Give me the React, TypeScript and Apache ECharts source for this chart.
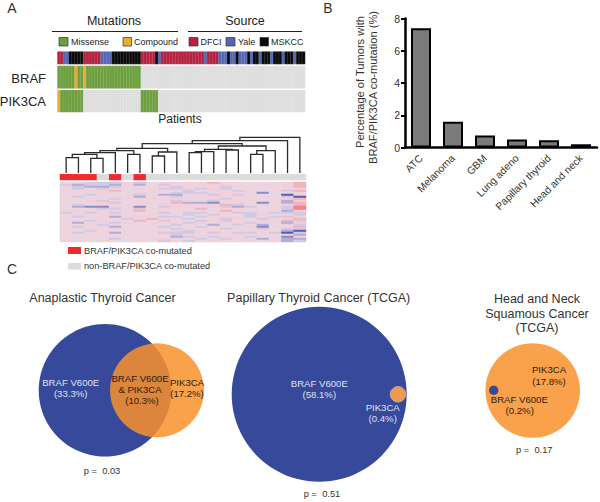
import React, { useEffect, useRef } from "react";
import * as echarts from "echarts";

const FONT = "'Liberation Sans', Arial, sans-serif";

// Panel A: oncoprint
const PATIENT_COUNT = 86;
const patients = Array.from({ length: PATIENT_COUNT }, (_, i) => `P${i + 1}`);
const sourceNames = ["DFCI", "Yale", "MSKCC"];
const sourceColors = ["#b3223f", "#5566b4", "#0a0a0a"];
// run lengths: [source index, number of patients]
const sourceRuns = [
  [0, 2], [1, 2], [2, 5], [0, 6], [1, 4], [2, 10], [0, 5], [2, 1], [1, 1], [0, 15], [1, 1], [0, 4],
  [1, 3], [2, 1], [1, 2], [2, 1], [1, 3], [2, 1], [1, 1], [2, 2], [1, 1], [2, 3], [1, 1], [2, 3], [1, 1], [2, 3], [1, 1], [2, 3],
];
// 0 none, 1 missense, 2 compound
const mutationColors = ["#dedede", "#6d9f3e", "#ebaa30"];
const brafRuns = [[1, 6], [2, 1], [1, 2], [2, 1], [1, 19], [0, 57]];
const pik3caRuns = [[2, 1], [1, 8], [0, 20], [1, 6], [0, 51]];

// Panel A: clustered expression
const clusterCols = Array.from({ length: 20 }, (_, i) => `S${i + 1}`);
const coMutated = [1, 1, 1, 0, 1, 0, 1, 0, 0, 0, 0, 0, 0, 0, 0, 0, 0, 0, 0, 0];
const coMutatedColors = ["#dcdcdc", "#ee2a2e"];
const heatLevels = [-4, -3, -2, -1, 0, 1, 2, 3];
const heatColors = ["#575ea9", "#8a8cc6", "#b0aed8", "#d3c9e3", "#e9d6e3", "#f3d0d9", "#f0b4bd", "#ef8486"];
const heatRows = [
  [0, 0, -1, -1, -1, 1, -1, 0, 1, 1, 1, 1, 2, 1, 1, 1, 0, 1, 1, 2],
  [-1, -2, -1, -1, -2, 1, -2, 0, -1, 0, 1, 0, 1, 1, 0, 0, 1, 0, 1, 2],
  [0, -1, -2, -2, -1, 0, 0, 1, 1, -1, 0, 1, 0, -1, 1, 1, 0, 1, 1, 2],
  [0, -1, 0, -1, 1, 0, 1, 0, -1, -1, 1, -1, 1, -1, 0, 0, 0, 0, 0, 1],
  [1, 0, 1, 1, 2, 0, 0, 1, 1, 0, -1, 0, 1, 0, -1, 1, 0, 1, -1, 2],
  [0, 0, 0, 1, 1, 0, 1, 0, 0, -1, -1, -1, 0, 1, 1, 0, -3, 0, 0, 1],
  [1, 1, -1, 0, 0, 1, -1, 1, -2, -2, 0, 1, -1, 1, -1, 1, 0, 0, -4, 1],
  [0, -1, 0, 1, 1, 0, -2, 0, 0, -1, 1, 0, 1, 0, 1, 0, 1, 0, -1, -4],
  [1, 0, 0, 0, -1, 1, 0, 1, 1, 1, 0, 0, 1, -1, 0, 1, 0, 1, 1, 2],
  [0, 0, 1, -1, 1, 0, 1, 0, 0, -1, 1, 0, -1, 0, 1, 1, 0, 0, -2, 1],
  [0, 0, 1, 1, -1, 0, 1, 1, 1, 2, -2, -2, -3, 1, 1, 0, -3, 1, -2, 2],
  [1, -1, 0, 1, 0, 1, 0, 0, 1, 1, 1, 1, 1, 2, -1, 0, 1, 0, 1, 2],
  [0, -2, -3, -3, 1, 0, -3, 0, -1, 1, 1, 1, 1, -1, -2, -1, 0, 0, -1, 3],
  [0, 0, 0, -1, -1, 0, -1, 1, 1, 0, 1, 2, 0, 1, 1, 0, 0, 1, -1, 3],
  [1, 1, 1, 1, 1, 1, 2, 0, 0, 0, 0, 0, 1, 2, 1, 0, 1, 0, -2, 1],
  [-1, 0, -1, 0, -1, 0, 1, 0, -1, 1, -1, -1, 0, 1, -1, -1, 0, -1, -1, -1],
  [0, 1, 0, 1, 1, 0, 0, 1, 1, 0, -1, 0, -1, 0, 0, -1, 1, 0, 1, -1],
  [1, -1, 1, 0, -2, 1, 1, 0, -1, -1, 0, -1, 1, 1, 1, -1, 0, -1, -1, 1],
  [0, 0, 0, 1, 0, -1, 1, 2, 1, 0, -1, 0, 0, -1, 1, 0, -1, 1, 1, 2],
  [1, 1, -1, 1, 1, 0, 2, 0, -1, 0, 0, -1, 1, -1, 0, 0, 1, 0, 2, -1],
  [0, -2, 0, 0, -1, 1, 0, 1, 1, 1, -1, 1, 0, 1, 1, -1, 0, 0, -2, 1],
  [1, 0, 1, -1, 0, 0, 1, 0, 0, -1, 0, 0, -2, 0, -1, 0, -2, 0, 1, -1],
  [0, -1, 0, 1, -2, 1, 0, 1, -1, 0, 1, -1, 1, 1, 0, 1, -3, 1, 0, 2],
  [1, 1, 1, 0, 1, 0, 1, 0, 1, -1, 0, 0, 0, -1, 1, 0, -1, 0, -1, -1],
  [0, 0, -1, 1, 0, 1, 0, 1, 0, 1, -1, 1, 1, 0, 0, 1, 1, 0, -2, -4],
  [1, -1, 0, 0, -2, 0, 1, 0, -1, -1, -1, 0, -1, 1, -1, -1, 0, -1, -4, -1],
  [0, 0, 1, 1, 0, 1, 0, 1, 1, -1, 1, 1, 0, 0, 1, 0, 1, 0, 1, -2],
  [1, 1, 0, 0, 1, 0, 1, 0, 0, -2, -1, 0, -1, 1, 0, -1, 0, 1, -3, 1],
  [0, 0, 1, 0, -1, 1, 0, 1, 1, 0, 0, -1, 0, -1, 1, 0, -2, 0, -2, -2],
  [1, 0, 0, 1, 0, 0, 1, 0, -1, 1, -1, 0, 1, 0, 0, 1, 0, 1, -2, -1],
];
// a, b: column index when >= 0, or ~(earlier merge index) when negative; h: height
const dendroMerges = [
  [0, 1, 15.3], [2, 3, 14.7], [~0, ~1, 18.7], [~2, 4, 20.3], [5, 6, 18.7], [~3, ~4, 22.3],
  [7, 8, 17], [~6, 9, 21], [~5, ~7, 24.7], [10, 11, 20.3], [~9, 12, 21.3], [13, 14, 23],
  [~10, ~11, 23.7], [15, 16, 18.7], [~13, 17, 22.3], [~12, ~14, 27], [~8, ~15, 29.3], [~16, 18, 32.3], [~17, 19, 35.7],
];

// Panel B: bars
const tumorTypes = ["ATC", "Melanoma", "GBM", "Lung adeno", "Papillary thyroid", "Head and neck"];
const coMutationPct = [7.4, 1.6, 0.75, 0.5, 0.45, 0.2];
const pctTicks = [0, 8, 2];

// Panel C: Venn circles, on a page-sized scale
const vennBlueX = [105, 319.2, 493.7];
const vennBlueY = [390.3, 394.3, 390.3];
const vennBlueR = [66.3, 87.5, 4.7];
const vennOrangeX = [157, 398, 532.7];
const vennOrangeY = [390.3, 394.3, 390.5];
const vennOrangeR = [47, 7.7, 47.3];

function expand(runs: number[][]) {
  const out: number[] = [];
  runs.forEach(([v, n]) => { for (let i = 0; i < n; i++) out.push(v); });
  return out;
}

function stripSeries(idx: number, values: number[]) {
  return {
    type: "heatmap", xAxisIndex: idx, yAxisIndex: idx, silent: true,
    itemStyle: { borderColor: "rgba(255,255,255,0.3)", borderWidth: 0.4 },
    data: values.map((v, i) => [i, 0, v]),
  };
}

const pieceMap = (seriesIndex: number, levels: number[], colors: string[]) => ({
  type: "piecewise", show: false, seriesIndex, dimension: 2,
  pieces: levels.map((value, i) => ({ value, color: colors[i] })),
});

function dendroData() {
  const pos: number[] = [];
  const rows: number[][] = [];
  dendroMerges.forEach(([a, b, h], i) => {
    const xa = a >= 0 ? a + 0.5 : pos[~a];
    const xb = b >= 0 ? b + 0.5 : pos[~b];
    const ha = a >= 0 ? 0 : dendroMerges[~a][2];
    const hb = b >= 0 ? 0 : dendroMerges[~b][2];
    pos[i] = (xa + xb) / 2;
    rows.push([xa, ha, xb, hb, h]);
  });
  return rows;
}

const txt = (
  text: string, x: number, y: number, size: number, fill = "#333",
  align: "center" | "left" | "right" = "center", rotation = 0,
) => ({
  type: "text", x, y, rotation, silent: true, z: 100,
  style: { text, fontSize: size, fontFamily: FONT, fill, align, verticalAlign: "middle" },
});
const rule = (x1: number, x2: number, y: number) => ({
  type: "line", silent: true, z: 100, shape: { x1, y1: y, x2, y2: y }, style: { stroke: "#222", lineWidth: 1 },
});
const swatch = (x: number, y: number, w: number, h: number, fill: string, stroke = "#333") => ({
  type: "rect", silent: true, z: 100, shape: { x, y, width: w, height: h },
  style: { fill, stroke, lineWidth: stroke === "none" ? 0 : 0.7 },
});

export default function App() {
  const ref = useRef<HTMLDivElement>(null);
  useEffect(() => {
    document.body.style.margin = "0";
    const chart = echarts.init(ref.current!, undefined, { renderer: "svg" });
    const hiddenCat = (idx: number, data: string[]) => ({ type: "category", gridIndex: idx, show: false, data });
    const light = "#dfe3f2";
    const dark = "#2b1c12";
    const vs = 9.6;
    chart.setOption({
      animation: false,
      backgroundColor: "#fff",
      textStyle: { fontFamily: FONT },
      grid: [
        { left: 57.5, top: 51.7, width: 247.5, height: 12.3 },
        { left: 57.5, top: 66, width: 247.5, height: 22.3 },
        { left: 57.5, top: 90.2, width: 247.5, height: 21.8 },
        { left: 60, top: 174.3, width: 246, height: 5.7 },
        { left: 60, top: 182, width: 246, height: 60 },
        { left: 60, top: 137, width: 246, height: 36 },
        { left: 405, top: 18.5, width: 192, height: 129 },
        { left: 0, top: 0, width: 600, height: 502 },
      ],
      visualMap: [
        pieceMap(0, [0, 1, 2], sourceColors),
        pieceMap(1, [0, 1, 2], mutationColors),
        pieceMap(2, [0, 1, 2], mutationColors),
        pieceMap(3, [0, 1], coMutatedColors),
        pieceMap(4, heatLevels, heatColors),
      ],
      xAxis: [
        hiddenCat(0, patients), hiddenCat(1, patients), hiddenCat(2, patients),
        hiddenCat(3, clusterCols), hiddenCat(4, clusterCols),
        { type: "value", gridIndex: 5, show: false, min: 0, max: 20 },
        {
          type: "category", gridIndex: 6, data: tumorTypes,
          axisLine: { lineStyle: { color: "#000", width: 2.5 } },
          axisTick: { alignWithLabel: true, length: 4, lineStyle: { color: "#000", width: 2 } },
          axisLabel: { rotate: 45, fontSize: 10.3, color: "#333", margin: 9, interval: 0, fontFamily: FONT },
        },
        { type: "value", gridIndex: 7, show: false, min: 0, max: 600 },
      ],
      yAxis: [
        hiddenCat(0, ["Source"]), hiddenCat(1, ["BRAF"]), hiddenCat(2, ["PIK3CA"]),
        hiddenCat(3, ["Co-mutated"]),
        { ...hiddenCat(4, heatRows.map((_, i) => `G${i + 1}`)), inverse: true },
        { type: "value", gridIndex: 5, show: false, min: 0, max: 36 },
        {
          type: "value", gridIndex: 6, min: pctTicks[0], max: pctTicks[1], interval: pctTicks[2],
          axisLine: { show: true, lineStyle: { color: "#000", width: 2.5 } },
          axisTick: { show: true, length: 4, lineStyle: { color: "#000", width: 2 } },
          axisLabel: { fontSize: 10.5, color: "#333", margin: 5, fontFamily: FONT },
          splitLine: { show: false },
        },
        { type: "value", gridIndex: 7, show: false, min: 0, max: 502, inverse: true },
      ],
      series: [
        stripSeries(0, expand(sourceRuns)),
        stripSeries(1, expand(brafRuns)),
        stripSeries(2, expand(pik3caRuns)),
        {
          type: "heatmap", xAxisIndex: 3, yAxisIndex: 3, silent: true,
          data: coMutated.map((v, i) => [i, 0, v]),
        },
        {
          type: "heatmap", xAxisIndex: 4, yAxisIndex: 4, silent: true,
          data: heatRows.flatMap((row, r) => row.map((v, c) => [c, r, v])),
        },
        {
          type: "custom", xAxisIndex: 5, yAxisIndex: 5, silent: true, clip: false,
          encode: { x: [0, 2], y: [1, 3, 4] },
          data: dendroData(),
          renderItem: (_: any, api: any) => {
            const h = api.value(4);
            return {
              type: "polyline",
              shape: {
                points: [
                  api.coord([api.value(0), api.value(1)]),
                  api.coord([api.value(0), h]),
                  api.coord([api.value(2), h]),
                  api.coord([api.value(2), api.value(3)]),
                ],
              },
              style: { stroke: "#2a2a2a", lineWidth: 1.3, fill: "none" },
            };
          },
        },
        {
          type: "bar", xAxisIndex: 6, yAxisIndex: 6, silent: true, data: coMutationPct, barWidth: 20,
          itemStyle: { color: "#7b7b7b", borderColor: "#000", borderWidth: 2 },
        },
        {
          type: "scatter", xAxisIndex: 7, yAxisIndex: 7, silent: true, symbol: "circle", z: 2,
          data: vennBlueX.map((x, i) => [x, vennBlueY[i], vennBlueR[i]]),
          symbolSize: (v: number[]) => v[2] * 2,
          itemStyle: { color: "#36499b", opacity: 1 },
        },
        {
          type: "scatter", xAxisIndex: 7, yAxisIndex: 7, silent: true, symbol: "circle", z: 3,
          data: [
            [vennOrangeX[0], vennOrangeY[0], vennOrangeR[0]],
            {
              value: [vennOrangeX[1], vennOrangeY[1], vennOrangeR[1]],
              itemStyle: { color: "#ee9a50", opacity: 1, borderColor: "#c9a98f", borderWidth: 1 },
            },
          ],
          symbolSize: (v: number[]) => v[2] * 2,
          itemStyle: { color: "#f8912b", opacity: 0.85 },
        },
        {
          type: "scatter", xAxisIndex: 7, yAxisIndex: 7, silent: true, symbol: "circle", z: 1,
          data: [[vennOrangeX[2], vennOrangeY[2], vennOrangeR[2]]],
          symbolSize: (v: number[]) => v[2] * 2,
          itemStyle: { color: "#f8912b", opacity: 0.85 },
        },
      ],
      graphic: [
        txt("A", 12, 8, 14), txt("B", 328, 8, 14), txt("C", 12, 269, 14),
        txt("Percentage of Tumors with", 360, 82, 11.1, "#333", "center", Math.PI / 2),
        txt("BRAF/PIK3CA co-mutation (%)", 372.7, 87.5, 11.1, "#333", "center", Math.PI / 2),
        txt("Mutations", 114, 21, 12.5, "#222"), rule(52, 178, 31.5),
        txt("Source", 245, 21, 12.5, "#222"), rule(188, 302, 31.5),
        swatch(59, 37.5, 9, 8.5, mutationColors[1]), txt("Missense", 71, 42, 9, "#222", "left"),
        swatch(123, 37.5, 8.5, 8.5, mutationColors[2]), txt("Compound", 134, 42, 9, "#222", "left"),
        swatch(189, 37.5, 9, 8.5, sourceColors[0]), txt(sourceNames[0], 200.5, 42, 9, "#222", "left"),
        swatch(226, 37.5, 9, 8.5, sourceColors[1]), txt(sourceNames[1], 238, 42, 9, "#222", "left"),
        swatch(260, 37.5, 8.5, 8.5, sourceColors[2]), txt(sourceNames[2], 271, 42, 9, "#222", "left"),
        txt("BRAF", 46, 78, 13, "#222", "right"), txt("PIK3CA", 46, 101, 13, "#222", "right"),
        txt("Patients", 180, 119, 12, "#222"),
        swatch(68, 247, 13, 7, "#ee2a2e", "none"), txt("BRAF/PIK3CA co-mutated", 84, 251, 9.2, "#333", "left"),
        swatch(68, 263, 13, 6.5, "#dcdcdc", "none"), txt("non-BRAF/PIK3CA co-mutated", 84, 266, 9.2, "#333", "left"),
        txt("Anaplastic Thyroid Cancer", 102.5, 298, 12.5),
        txt("Papillary Thyroid Cancer (TCGA)", 318.7, 298.3, 12.5),
        txt("Head and Neck", 537, 298.5, 12.5), txt("Squamous Cancer", 537, 313.5, 12.5), txt("(TCGA)", 537, 328, 12.5),
        txt("BRAF V600E", 70.7, 382, vs, light), txt("(33.3%)", 70.7, 393.5, vs, light),
        txt("BRAF V600E", 140, 378, vs, dark), txt("& PIK3CA", 140, 389.3, vs, dark), txt("(10.3%)", 142, 400.7, vs, dark),
        txt("PIK3CA", 187, 382.7, vs, dark), txt("(17.2%)", 187, 393.7, vs, dark),
        txt("p =  0.03", 102, 470.7, 9.3),
        txt("BRAF V600E", 319.3, 383.7, vs, light), txt("(58.1%)", 319.3, 394.7, vs, light),
        txt("PIK3CA", 382.7, 407.3, vs, light), txt("(0.4%)", 382.7, 418.7, vs, light),
        txt("p =  0.51", 322, 494.3, 9.3),
        txt("PIK3CA", 549, 369.7, vs, dark), txt("(17.8%)", 549, 381, vs, dark),
        txt("BRAF V600E", 519.3, 399, vs, dark), txt("(0.2%)", 519.7, 410, vs, dark),
        txt("p =  0.17", 534.3, 450.3, 9.3),
      ],
    });
    return () => chart.dispose();
  }, []);
  return <div ref={ref} style={{ width: 600, height: 502, overflow: "hidden" }} />;
}
